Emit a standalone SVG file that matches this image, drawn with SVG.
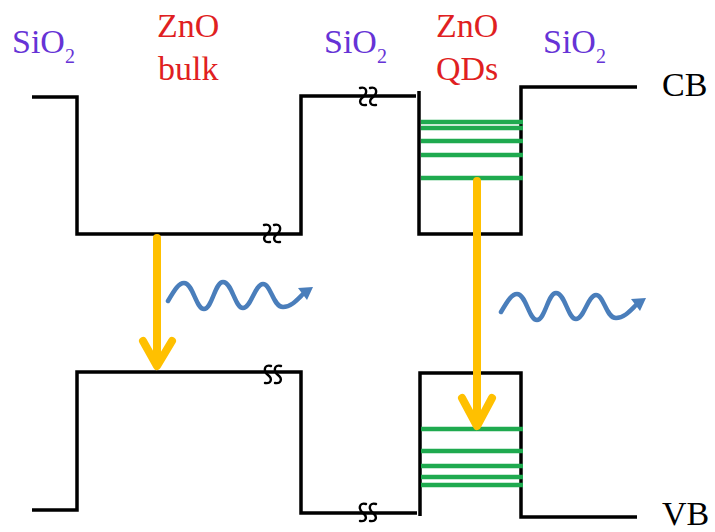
<svg xmlns="http://www.w3.org/2000/svg" xmlns:xlink="http://www.w3.org/1999/xlink" width="715" height="532" viewBox="0 0 715 532">
<style>
.band{fill:none;stroke:#000;stroke-width:3.5;stroke-linejoin:miter}
.lvl{stroke:#1faa4f;stroke-width:4.5}
.brk{fill:none;stroke:#000;stroke-width:2.4;stroke-linecap:round}
.tr{fill:none;stroke:#ffc000;stroke-width:8;stroke-linecap:round;stroke-linejoin:round}
.wave{fill:none;stroke:#4a7ebb;stroke-width:4.5;stroke-linecap:round}
.ah{fill:#4a7ebb}
.sio{fill:#6633d6}
.zno{fill:#e01f22}
.lab{fill:#000}
</style>
<defs>
<g id="wave">
<path class="wave" d="M168,301 C175,289 179,283 184,283 C193,283 196,309 204,309 C212,309 215,282 223,282 C232,282 235,308 243,308 C251,308 255,284 263,284 C271,284 273,307 283,307 C291,307 297,300 303,294"/>
<path class="ah" d="M313,287 L298,288 L307,300 Z"/>
</g>
</defs>
<g id="labels" font-family="'Liberation Serif', 'DejaVu Serif', serif" font-size="34">
<text class="sio" x="12" y="53">SiO<tspan font-size="20" dy="10">2</tspan></text>
<text class="zno" x="157" y="37">ZnO</text>
<text class="zno" x="158" y="80">bulk</text>
<text class="sio" x="324" y="53">SiO<tspan font-size="20" dy="10">2</tspan></text>
<text class="zno" x="436" y="37">ZnO</text>
<text class="zno" x="436" y="80">QDs</text>
<text class="sio" x="543" y="53">SiO<tspan font-size="20" dy="10">2</tspan></text>
<text class="lab" x="662" y="96">CB</text>
<text class="lab" x="662" y="525">VB</text>
</g>
<g id="bulk-cb">
<path class="band" d="M32,97 H77 V234 H301 V96 H416"/>
</g>
<g id="qd-cb">
<path class="band" d="M419,91 V234 H521 V87 H637"/>
<line class="lvl" x1="421" y1="122" x2="523" y2="122"/>
<line class="lvl" x1="421" y1="128" x2="523" y2="128"/>
<line class="lvl" x1="421" y1="141" x2="523" y2="141"/>
<line class="lvl" x1="421" y1="155" x2="523" y2="155"/>
<line class="lvl" x1="421" y1="178" x2="523" y2="178"/>
</g>
<g id="bulk-vb">
<path class="band" d="M32,510 H77 V372 H301 V513 H417"/>
</g>
<g id="qd-vb">
<path class="band" d="M420,516 V373 H521 V517 H637"/>
<line class="lvl" x1="421" y1="429" x2="523" y2="429"/>
<line class="lvl" x1="421" y1="451" x2="523" y2="451"/>
<line class="lvl" x1="421" y1="466" x2="523" y2="466"/>
<line class="lvl" x1="421" y1="477" x2="523" y2="477"/>
<line class="lvl" x1="421" y1="485" x2="523" y2="485"/>
</g>
<g id="breaks">
<path class="brk" d="M360,88 C367,86 368,93 363,97 C358,101 360,106 366,105 M370,88 C377,86 378,93 373,97 C368,101 370,106 376,105"/>
<path class="brk" d="M264,225 C271,223 272,230 267,234 C262,238 264,243 270,242 M274,225 C281,223 282,230 277,234 C272,238 274,243 280,242"/>
<path class="brk" d="M271,366 C264,364 263,371 268,375 C273,379 271,384 265,383 M281,366 C274,364 273,371 278,375 C283,379 281,384 275,383"/>
<path class="brk" d="M366,504 C359,502 358,509 363,513 C368,517 366,522 360,521 M376,504 C369,502 368,509 373,513 C378,517 376,522 370,521"/>
</g>
<g id="connectors">
<path class="tr" d="M157,238 V364 M143,341 L157,366 L172,341"/>
<path class="tr" d="M477,181 V424 M462,398 L477,426 L492,398"/>
<use xlink:href="#wave"/>
<use xlink:href="#wave" transform="translate(333,11)"/>
</g>
</svg>
